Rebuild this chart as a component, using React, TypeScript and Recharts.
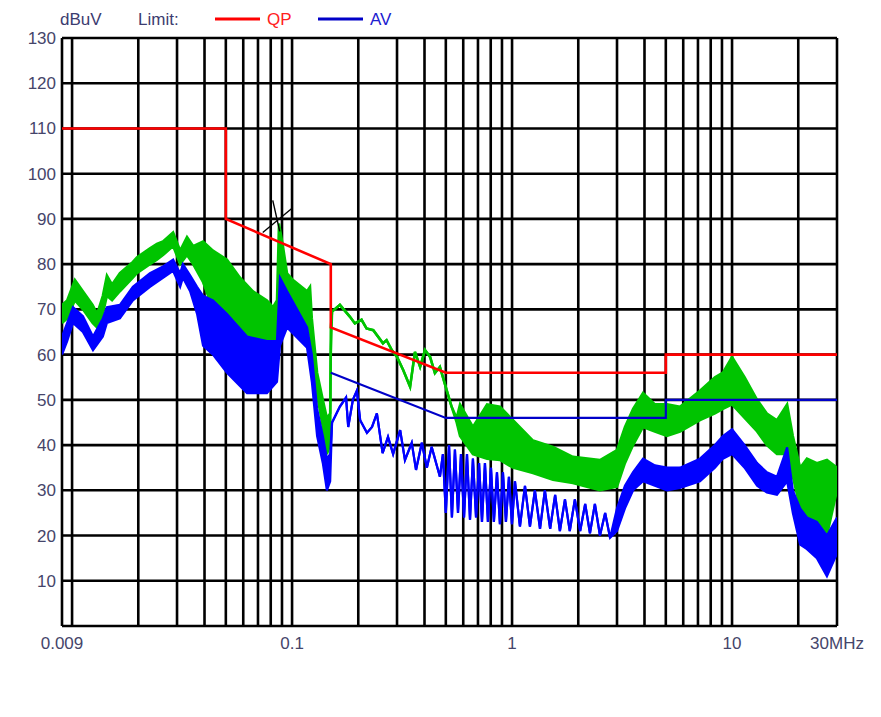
import { ComposedChart, XAxis, YAxis, CartesianGrid, Line, Area, Scatter } from 'recharts';

const FONT = '"Liberation Sans", Arial, sans-serif';

// frequency grid (MHz), 1-2-3...9 per decade
const xTicks = [
  0.009, 0.01, 0.02, 0.03, 0.04, 0.05, 0.06, 0.07, 0.08, 0.09,
  0.1, 0.2, 0.3, 0.4, 0.5, 0.6, 0.7, 0.8, 0.9,
  1, 2, 3, 4, 5, 6, 7, 8, 9,
  10, 20, 30,
];
const xTickLabels: Record<string, string> = { '0.009': '0.009', '0.1': '0.1', '1': '1', '10': '10', '30': '30MHz' };
const yTicks = [0, 10, 20, 30, 40, 50, 60, 70, 80, 90, 100, 110, 120, 130];

// QP / AV limit lines
const qpFreq = [0.009, 0.05, 0.05, 0.15, 0.15, 0.5, 5, 5, 30];
const qpLevel = [110, 110, 90, 80, 66, 56, 56, 60, 60];
const avFreq = [0.15, 0.5, 5, 5, 30];
const avLevel = [56, 46, 46, 50, 50];

// peak scan (green): min / max of the trace at each frequency
const gFreq = [
  0.009, 0.0095, 0.0103, 0.0112, 0.0124, 0.013, 0.0138, 0.0144, 0.0152, 0.0165,
  0.0189, 0.0197, 0.0226, 0.0243, 0.0259, 0.0288, 0.031, 0.0333, 0.0355, 0.0394,
  0.0437, 0.0506, 0.058, 0.0664, 0.0769, 0.0819, 0.0854, 0.0872, 0.0909, 0.0949,
  0.101, 0.117, 0.1207, 0.123, 0.13, 0.138, 0.144, 0.149, 0.15,
  0.152, 0.165, 0.183, 0.193, 0.207, 0.218, 0.234, 0.259, 0.269, 0.284,
  0.3, 0.32, 0.344, 0.362, 0.382, 0.402, 0.424, 0.446, 0.47, 0.504, 0.531,
  0.56, 0.58, 0.664, 0.77, 0.881, 1.01, 1.245, 1.535, 1.89, 2.51,
  3.0, 3.26, 3.55, 3.94, 4.46, 5.06, 5.8, 7.15, 8.36, 9.09,
  10, 11.4, 13, 14.4, 16, 17.8, 18.9, 20.4, 21.9, 24.3, 27, 30,
];
const gLow = [
  67, 68, 72, 70, 67, 66, 69, 73, 72, 74,
  77, 78, 80, 81, 82, 84, 80, 82, 80, 76,
  70, 63, 61, 60, 59, 61, 63, 76, 73, 70,
  68, 66, 65, 60, 51, 44, 38, 40, 60,
  69.5, 71, 68.4, 66.9, 67.7, 65.8, 65.4, 62.5, 63.2, 61,
  59.5, 56.6, 52.9, 60.6, 57.3, 61, 59.5, 55.9, 57.3, 52.2, 48.5,
  45, 42, 38, 37, 36.7, 35, 33.8, 32.3, 31.6, 30,
  30.8, 36, 40, 44, 43, 42, 43, 45.5, 47, 48,
  49, 46, 43, 40, 38, 38, 33, 26, 24, 21, 20, 30,
];
const gHigh = [
  71, 72, 76.5, 74, 71, 69, 73, 77.5, 75.5, 78,
  80.5, 81.5, 83.5, 84.5, 85, 87, 83, 86, 84, 85,
  83, 81, 77, 74, 72, 70.5, 72, 89, 84, 78,
  76.5, 74, 75, 68, 56, 50, 46, 47, 66,
  69.5, 71, 68.4, 66.9, 67.7, 65.8, 65.4, 62.5, 63.2, 61,
  59.5, 56.6, 52.9, 60.6, 57.3, 61, 59.5, 55.9, 57.3, 52.2, 48.5,
  46, 49, 44, 49, 48.5, 45.5, 41, 39.6, 37.4, 36.7,
  38.9, 44, 48, 51.5, 49, 49, 48.5, 52, 55, 56,
  59.5, 55, 50, 47, 45.5, 49, 42, 35, 37, 36, 36.7, 35,
];

// average (blue)
const bFreq = [
  0.009, 0.0095, 0.0101, 0.0112, 0.01245, 0.0138, 0.0144, 0.0165, 0.0189, 0.0226,
  0.0259, 0.0288, 0.031, 0.0319, 0.0344, 0.037, 0.0394, 0.0437, 0.0506, 0.0624,
  0.0769, 0.0854, 0.0881, 0.0949, 0.117, 0.123, 0.13, 0.138, 0.144, 0.149,
  0.152, 0.165, 0.176, 0.18, 0.189, 0.197, 0.204, 0.219, 0.231, 0.243,
  0.258, 0.273, 0.288, 0.31, 0.326, 0.35, 0.366, 0.389, 0.41, 0.431, 0.47,
  0.485, 0.5, 0.517, 0.533, 0.55, 0.568, 0.586, 0.605, 0.624, 0.644,
  0.664, 0.686, 0.708, 0.73, 0.753, 0.777, 0.802, 0.827, 0.854, 0.881,
  0.909, 0.938, 0.968, 0.999, 1.031, 1.086, 1.145, 1.206, 1.27, 1.34,
  1.41, 1.49, 1.57, 1.65, 1.74, 1.83, 1.93, 2.04, 2.15, 2.26,
  2.38, 2.51, 2.65, 2.79,
  3.0, 3.26, 3.55, 3.94, 4.46, 5.06, 5.8, 7.15, 8.36, 9.09,
  10, 11.4, 13, 14.4, 16, 17.8, 18.9, 20.4, 21.9, 24.3, 27, 30,
];
const bLow = [
  60, 63, 67, 65, 61, 64, 67, 68, 72, 75,
  77, 78.5, 75, 77, 74, 69, 62, 60, 56, 51.5,
  51.5, 54, 62, 66, 61.5, 54, 42, 36, 30, 32,
  45, 48.5, 50.5, 44, 50, 52, 45.5, 42.7, 44, 47,
  38.2, 41.8, 38, 43.3, 36.7, 40.5, 34.5, 40.5, 35, 39.6, 33,
  38, 25, 40, 24, 39, 25, 38, 24, 38, 23.5,
  37, 24, 36, 23, 36, 23, 35, 23, 34, 22.5,
  34, 23, 33, 22.5, 32, 22, 31, 22, 30, 21.5,
  30, 21.5, 29, 21, 28, 21, 28, 21, 27, 20.5,
  27, 20, 25, 19.5,
  21, 26, 30, 32, 31, 30, 30.5, 32, 35, 37,
  38, 35, 31, 29.5, 29, 32, 25, 18, 17, 15, 11, 16,
];
const bHigh = [
  64, 67, 70.5, 68.5, 64, 68, 70.5, 71, 75, 78,
  79.5, 81, 78, 80, 77.5, 75, 73, 72, 69, 64,
  63, 63, 77, 74, 66, 60, 48, 42, 37, 38,
  45, 48.5, 50.5, 44, 50, 52, 45.5, 42.7, 44, 47,
  38.2, 41.8, 38, 43.3, 36.7, 40.5, 34.5, 40.5, 35, 39.6, 33,
  38, 25, 40, 24, 39, 25, 38, 24, 38, 23.5,
  37, 24, 36, 23, 36, 23, 35, 23, 34, 22.5,
  34, 23, 33, 22.5, 32, 22, 31, 22, 30, 21.5,
  30, 21.5, 29, 21, 28, 21, 28, 21, 27, 20.5,
  27, 20, 25, 19.5,
  26, 31, 34, 37, 35.5, 35, 35, 37, 40, 42,
  43.5, 40, 36, 34, 33, 39.5, 30, 26, 24, 23, 20, 24,
];

// marked peak
const peakFreq = [0.087];
const peakLevel = [89];

const qpRows = qpFreq.map((f, i) => ({ f, v: qpLevel[i] }));
const avRows = avFreq.map((f, i) => ({ f, v: avLevel[i] }));
const greenRows = gFreq.map((f, i) => ({ f, band: [gLow[i], gHigh[i]] }));
const blueRows = bFreq.map((f, i) => ({ f, band: [bLow[i], bHigh[i]] }));
const peakRows = peakFreq.map((f, i) => ({ f, v: peakLevel[i] }));

const PeakMark = ({ cx, cy }: any) => (
  <g stroke="#000" strokeWidth={1.4}>
    <line x1={cx - 16} y1={cy + 9} x2={cx + 13} y2={cy - 15} />
    <line x1={cx - 6} y1={cy - 23} x2={cx + 1} y2={cy + 8} />
  </g>
);

const tickStyle = { fontSize: 17, fill: '#45456a', fontFamily: FONT };

export default function App() {
  return (
    <div style={{ position: 'relative', width: 873, height: 709 }}>
      <div style={{ position: 'absolute', left: -1, top: -1, width: 874, height: 710, borderTop: '1.5px solid #444', borderLeft: '1.5px solid #444' }} />
      <ComposedChart width={873} height={709} margin={{ top: 30, right: 44, bottom: 61, left: 10 }}>
        <CartesianGrid stroke="#000" strokeWidth={2.6} />
        <XAxis
          dataKey="f"
          type="number"
          scale="log"
          domain={[0.009, 30]}
          ticks={xTicks}
          interval={0}
          allowDataOverflow
          axisLine={false}
          tickLine={false}
          tickSize={0}
          tickMargin={11}
          height={30}
          tick={tickStyle}
          tickFormatter={(v: number) => xTickLabels[String(v)] ?? ''}
        />
        <YAxis
          type="number"
          domain={[0, 130]}
          ticks={yTicks}
          interval={0}
          axisLine={false}
          tickLine={false}
          tickSize={0}
          tickMargin={6}
          width={44}
          tick={tickStyle}
          tickFormatter={(v: number) => (v === 0 ? '' : String(v))}
        />
        <Area data={greenRows} dataKey="band" type="linear" stroke="#00c400" strokeWidth={2.5} fill="#00c400" fillOpacity={1} dot={false} activeDot={false} isAnimationActive={false} />
        <Area data={blueRows} dataKey="band" type="linear" stroke="#0000ff" strokeWidth={2.2} fill="#0000ff" fillOpacity={1} dot={false} activeDot={false} isAnimationActive={false} />
        <Line data={qpRows} dataKey="v" type="linear" stroke="#ff0000" strokeWidth={2.6} dot={false} activeDot={false} isAnimationActive={false} />
        <Line data={avRows} dataKey="v" type="linear" stroke="#0000c8" strokeWidth={2.2} dot={false} activeDot={false} isAnimationActive={false} />
        <Scatter data={peakRows} dataKey="v" shape={(p: any) => <PeakMark {...p} />} isAnimationActive={false} />
      </ComposedChart>
      <svg width={420} height={30} style={{ position: 'absolute', left: 0, top: 0 }} fontFamily={FONT} fontSize={17}>
        <text x={52} y={17} fill="#3c3c70">dBuV</text>
        <text x={130} y={17} fill="#3c3c70">Limit:</text>
        <line x1={207} y1={11} x2={252} y2={11} stroke="#ff0000" strokeWidth={3} />
        <text x={259} y={17} fill="#ff2020">QP</text>
        <line x1={310} y1={11} x2={355} y2={11} stroke="#0000c8" strokeWidth={3} />
        <text x={362} y={17} fill="#2020d0">AV</text>
      </svg>
    </div>
  );
}
